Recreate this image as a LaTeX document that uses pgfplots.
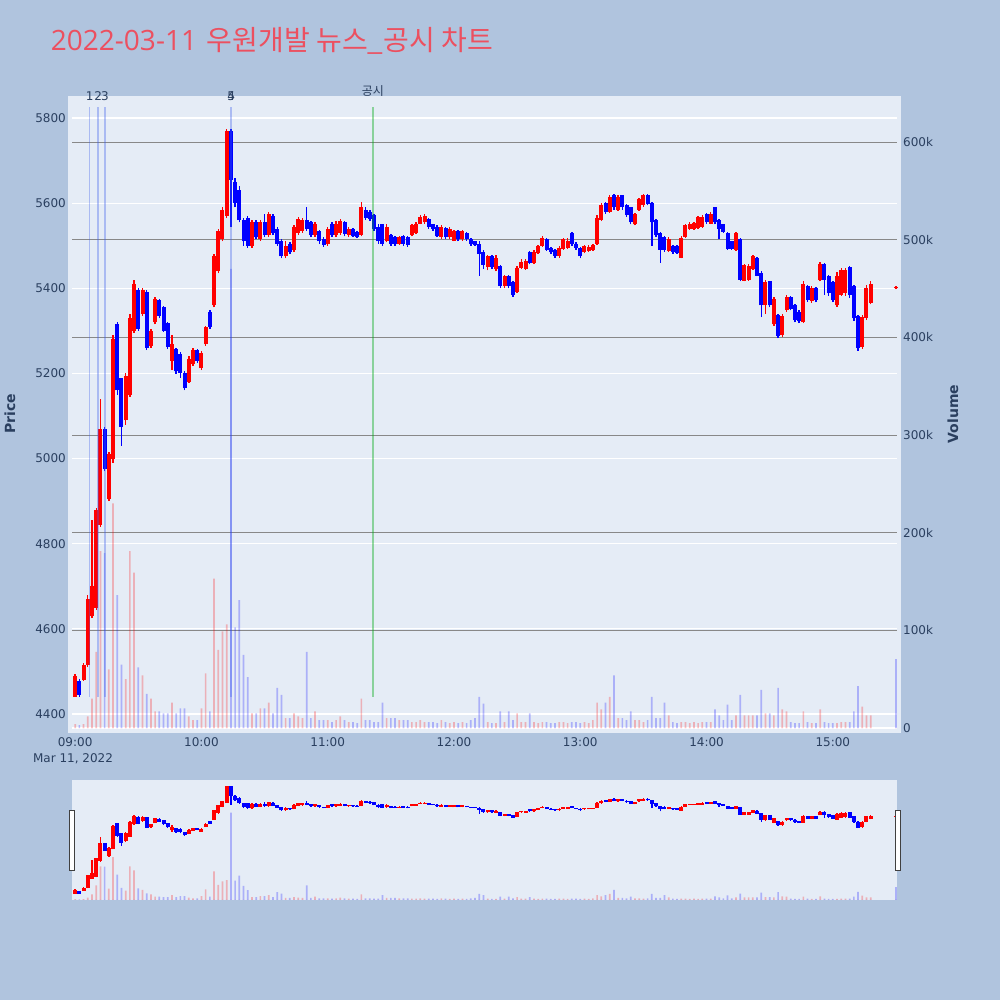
\documentclass[border=0pt]{standalone}
\usepackage{pgfplots}
\pgfplotsset{compat=1.18}
\usepackage{pgfplotstable}
\usepackage{fontspec}
\setmainfont{DejaVu Sans}
\newfontfamily\cjk{Noto Sans CJK KR}
\newfontfamily\opensans{Open Sans}
\definecolor{pagebg}{HTML}{B0C4DE}
\definecolor{plotbg}{HTML}{E5ECF6}
\definecolor{txt}{HTML}{2A3F5F}
\definecolor{titlec}{RGB}{236,80,96}
\definecolor{vgrid}{HTML}{888888}
\definecolor{upc}{HTML}{FF0000}
\definecolor{dnc}{HTML}{0000FF}
\definecolor{vline}{RGB}{60,95,235}
\definecolor{gline}{RGB}{0,170,20}

\pgfplotstableread{
t o h l c v
0 4440 4495 4440 4490 4
2 4478 4482 4440 4445 3
4 4480 4520 4478 4515 4
6 4515 4680 4510 4670 12
8 4630 4855 4625 4700 30
10 4650 4885 4645 4880 78
12 4845 5140 4840 5070 181
14 5070 5075 4970 4975 179
16 4905 5015 4900 5010 60
18 5000 5290 4990 5280 230
20 5315 5320 5150 5160 136
22 5190 5190 5030 5075 65
24 5090 5200 5080 5195 50
26 5150 5340 5145 5330 181
28 5300 5420 5295 5410 159
30 5395 5400 5300 5305 62
32 5340 5400 5335 5395 54
34 5392 5395 5255 5260 35
36 5265 5305 5260 5300 30
38 5320 5380 5315 5375 17
40 5372 5375 5330 5335 17
42 5355 5358 5298 5300 15
44 5318 5320 5258 5262 15
46 5230 5290 5208 5270 26
48 5258 5260 5199 5205 15
50 5245 5250 5190 5200 20
52 5200 5205 5160 5165 20
54 5180 5240 5178 5235 12
56 5222 5260 5218 5255 8
58 5255 5258 5225 5230 8
60 5212 5252 5208 5248 20
62 5268 5312 5265 5308 56
64 5345 5348 5305 5310 17
66 5360 5480 5355 5475 153
68 5440 5540 5435 5535 80
70 5515 5590 5510 5585 99
72 5570 5775 5565 5770 106
74 5770 5775 5545 5655 470
76 5650 5660 5590 5600 103
78 5630 5640 5555 5560 131
80 5560 5565 5500 5510 75
82 5565 5570 5495 5500 52
84 5500 5560 5495 5555 15
86 5555 5560 5515 5520 15
88 5515 5560 5512 5555 20
90 5555 5575 5520 5525 20
92 5525 5580 5520 5575 26
94 5570 5575 5525 5530 15
96 5540 5545 5500 5505 41
98 5510 5515 5470 5475 34
100 5475 5510 5470 5500 10
102 5505 5508 5480 5485 10
104 5490 5548 5485 5545 15
106 5530 5568 5525 5562 12
108 5535 5565 5530 5560 10
110 5560 5590 5535 5540 78
112 5555 5558 5520 5525 10
114 5525 5555 5520 5550 17
116 5535 5538 5505 5510 8
118 5515 5520 5498 5502 8
120 5505 5545 5500 5540 8
122 5550 5555 5520 5525 6
124 5525 5558 5520 5552 8
126 5530 5562 5525 5558 12
128 5555 5558 5522 5528 8
130 5525 5545 5520 5540 6
132 5540 5542 5520 5522 6
134 5532 5535 5518 5520 5
136 5525 5602 5522 5590 30
138 5585 5590 5560 5565 8
140 5580 5585 5558 5562 8
142 5572 5575 5535 5540 6
144 5545 5550 5505 5510 6
146 5550 5552 5500 5505 26
148 5510 5550 5508 5545 10
150 5525 5528 5500 5505 10
152 5520 5522 5500 5505 10
154 5505 5522 5502 5520 8
156 5522 5525 5500 5505 8
158 5520 5522 5498 5502 8
160 5525 5552 5522 5548 6
162 5530 5555 5528 5550 6
164 5552 5572 5550 5568 8
166 5555 5575 5552 5570 6
168 5562 5565 5540 5545 6
170 5550 5552 5535 5540 6
172 5545 5548 5520 5522 5
174 5520 5548 5515 5545 8
176 5542 5545 5515 5520 6
178 5520 5545 5515 5540 5
180 5512 5538 5510 5535 6
182 5535 5538 5510 5515 5
184 5515 5538 5512 5535 6
186 5530 5532 5512 5515 5
188 5515 5518 5500 5505 8
190 5510 5512 5500 5502 10
192 5505 5510 5430 5480 32
194 5486 5490 5446 5455 25
196 5450 5478 5442 5475 6
198 5476 5478 5445 5450 5
200 5445 5478 5440 5472 5
202 5452 5455 5400 5405 17
204 5405 5432 5400 5428 6
206 5430 5432 5400 5405 17
208 5415 5418 5380 5385 8
210 5392 5452 5390 5448 15
212 5448 5468 5445 5462 6
214 5446 5468 5444 5465 6
216 5485 5488 5456 5460 15
218 5460 5490 5458 5486 6
220 5482 5502 5480 5500 5
222 5500 5522 5498 5518 6
224 5515 5518 5488 5490 6
226 5495 5497 5480 5485 5
228 5490 5492 5472 5476 5
230 5475 5500 5472 5495 6
232 5492 5518 5490 5515 6
234 5495 5518 5492 5512 5
236 5530 5532 5500 5505 6
238 5505 5508 5490 5495 6
240 5495 5497 5470 5475 5
242 5485 5502 5482 5500 6
244 5488 5502 5486 5498 5
246 5490 5505 5488 5502 8
248 5505 5572 5502 5565 26
250 5560 5600 5558 5595 19
252 5600 5602 5575 5580 26
254 5580 5620 5578 5615 32
256 5620 5622 5585 5590 54
258 5585 5620 5582 5615 10
260 5618 5620 5585 5590 10
262 5595 5598 5568 5572 8
264 5590 5592 5550 5555 17
266 5550 5578 5548 5575 8
268 5585 5612 5582 5610 8
270 5595 5622 5592 5618 6
272 5620 5622 5595 5598 8
274 5600 5602 5500 5555 32
276 5560 5562 5520 5525 10
278 5530 5532 5460 5490 10
280 5520 5522 5486 5490 26
282 5488 5520 5485 5515 13
284 5500 5502 5481 5485 6
286 5500 5502 5481 5484 5
288 5472 5522 5470 5518 6
290 5520 5550 5518 5548 6
292 5540 5555 5538 5552 5
294 5540 5556 5538 5553 6
296 5542 5570 5540 5568 5
298 5545 5572 5542 5568 6
300 5575 5578 5552 5555 6
302 5552 5580 5550 5575 6
304 5590 5592 5550 5555 19
306 5560 5562 5515 5540 13
308 5550 5552 5530 5532 8
310 5530 5532 5490 5492 24
312 5510 5512 5490 5492 8
314 5490 5532 5488 5530 13
316 5515 5518 5416 5420 34
318 5418 5458 5416 5455 13
320 5420 5456 5418 5452 13
322 5446 5478 5444 5475 13
324 5471 5473 5428 5430 13
326 5436 5440 5332 5360 39
328 5360 5420 5340 5415 15
330 5416 5418 5355 5360 15
332 5315 5380 5312 5375 13
334 5337 5340 5283 5288 41
336 5290 5340 5286 5335 19
338 5350 5385 5345 5380 17
340 5380 5382 5348 5352 6
342 5360 5362 5320 5325 5
344 5345 5348 5318 5322 5
346 5320 5418 5318 5410 17
348 5405 5408 5368 5372 6
350 5370 5405 5366 5400 5
352 5400 5402 5367 5372 5
354 5420 5462 5416 5458 19
356 5456 5460 5385 5420 6
358 5430 5432 5382 5388 5
360 5415 5418 5367 5372 5
362 5360 5438 5357 5430 5
364 5385 5448 5382 5442 6
366 5390 5448 5382 5444 6
368 5450 5452 5377 5385 6
370 5405 5408 5323 5330 17
372 5335 5338 5253 5260 43
374 5262 5338 5258 5332 22
376 5330 5408 5325 5400 13
378 5365 5418 5362 5410 13
390 5400 5405 5398 5404 0
}\candles

\pgfplotsset{
  baseax/.style={scale only axis, width=825pt, xmin=-1.5, xmax=390.5,
    axis line style={draw=none}, major tick length=0pt, tick style={draw=none},
    ticklabel style={font=\fontsize{12}{14}\selectfont, text=txt}},
  mainax/.style={baseax, height=632pt, at={(72pt,-729pt)}, anchor=south west},
  sliderax/.style={baseax, height=120pt, at={(72pt,-900pt)}, anchor=south west,
    xtick=\empty, ytick=\empty},
  pricerange/.style={ymin=4364.8, ymax=5849.3},
  volrange/.style={ymin=-1.02, ymax=646.1},
}

\newcommand{\drawcandles}{%
  \addplot[draw=none, mark=none, forget plot, error bars/.cd, y dir=plus, y explicit, error mark=none,
    error bar style={draw=upc, line width=1.4pt, line cap=butt}]
    table[x=t, y=l, y error plus expr={\thisrow{c}>=\thisrow{o} ? \thisrow{h}-\thisrow{l} : 0}]{\candles};
  \addplot[draw=none, mark=none, forget plot, error bars/.cd, y dir=plus, y explicit, error mark=none,
    error bar style={draw=dnc, line width=1.4pt, line cap=butt}]
    table[x=t, y=l, y error plus expr={\thisrow{c}<\thisrow{o} ? \thisrow{h}-\thisrow{l} : 0}]{\candles};
  \addplot[draw=none, mark=none, forget plot, error bars/.cd, y dir=plus, y explicit, error mark=none,
    error bar style={draw=upc, line width=4pt, line cap=butt}]
    table[x=t, y=o, y error plus expr={max(\thisrow{c}-\thisrow{o},0)}]{\candles};
  \addplot[draw=none, mark=none, forget plot, error bars/.cd, y dir=plus, y explicit, error mark=none,
    error bar style={draw=dnc, line width=4pt, line cap=butt}]
    table[x=t, y=c, y error plus expr={max(\thisrow{o}-\thisrow{c},0)}]{\candles};
}
\newcommand{\drawvolume}{%
  \addplot[ybar, bar width=1.7pt, bar shift=0pt, fill=upc, fill opacity=0.25, draw=none, forget plot]
    table[x=t, y expr={\thisrow{c}>=\thisrow{o} ? \thisrow{v} : 0}]{\candles};
  \addplot[ybar, bar width=1.7pt, bar shift=0pt, fill=dnc, fill opacity=0.25, draw=none, forget plot]
    table[x=t, y expr={\thisrow{c}<\thisrow{o} ? \thisrow{v} : 0}]{\candles};
  \addplot[ybar, bar width=1.7pt, bar shift=0pt, fill=dnc, fill opacity=0.25, draw=none, forget plot]
    coordinates {(390,71)};
}

\begin{document}
\begin{tikzpicture}[x=1pt,y=1pt]
\useasboundingbox (0,0) rectangle (1000,-1000);
\fill[pagebg] (0,0) rectangle (1000,-1000);
\fill[plotbg] (68,-96) rectangle (901,-733);
\fill[plotbg] (72,-780) rectangle (897,-900);

% title
\node[anchor=base west, inner sep=0pt, text=titlec] at (50.7,-51)
  {{\opensans\fontsize{28}{32}\selectfont 2022-03-11}\hspace{10pt}{\cjk\fontsize{28}{32}\selectfont 우원개발 뉴스\_공시 차트}};

% price grid + x labels
\begin{axis}[mainax, pricerange,
  ytick={4400,4600,4800,5000,5200,5400,5600,5800},
  yticklabels={4400,4600,4800,5000,5200,5400,5600,5800},
  yticklabel style={anchor=east, inner sep=0pt, xshift=-6pt},
  ymajorgrids, grid style={white, line width=1.2pt},
  xtick={0,60,120,180,240,300,360},
  xticklabels={09:00,10:00,11:00,12:00,13:00,14:00,15:00},
  xticklabel style={anchor=base, inner sep=0pt, yshift=-17pt}]
\end{axis}

% volume axis
\begin{axis}[mainax, volrange,
  ytick={0,100,200,300,400,500,600},
  yticklabels={0,100k,200k,300k,400k,500k,600k},
  yticklabel pos=right,
  yticklabel style={anchor=west, inner sep=0pt, xshift=6pt},
  ymajorgrids, grid style={vgrid, line width=1pt},
  xtick=\empty]
\addplot[white, line width=2pt, forget plot] coordinates {(-1.5,0) (390.5,0)};
\drawvolume
\end{axis}

% price data
\begin{axis}[mainax, pricerange, xtick=\empty, ytick=\empty, clip=false]
\drawcandles
\addplot[vline, opacity=0.35, line width=1.4pt, forget plot] coordinates {(6.9,4440) (6.9,5826)};
\addplot[vline, opacity=0.35, line width=1.4pt, forget plot] coordinates {(10.9,4440) (10.9,5826)};
\addplot[vline, opacity=0.35, line width=1.4pt, forget plot] coordinates {(14.2,4440) (14.2,5826)};
\addplot[vline, opacity=0.35, line width=1.4pt, forget plot] coordinates {(74.1,4440) (74.1,5826)};
\addplot[gline, opacity=0.4, line width=1.4pt, forget plot] coordinates {(141.5,4440) (141.5,5826)};
\node[anchor=base, inner sep=0pt, text=txt, font=\fontsize{12}{14}\selectfont, yshift=-3.7pt] at (axis cs:6.9,5849.3) {1};
\node[anchor=base, inner sep=0pt, text=txt, font=\fontsize{12}{14}\selectfont, yshift=-3.7pt] at (axis cs:10.9,5849.3) {2};
\node[anchor=base, inner sep=0pt, text=txt, font=\fontsize{12}{14}\selectfont, yshift=-3.7pt] at (axis cs:14.2,5849.3) {3};
\node[anchor=base, inner sep=0pt, text=txt, font=\fontsize{12}{14}\selectfont, yshift=-3.7pt] at (axis cs:74.1,5849.3) {4};
\node[anchor=base, inner sep=0pt, text=txt, font=\fontsize{12}{14}\selectfont, yshift=-3.7pt] at (axis cs:74.1,5849.3) {5};
\node[anchor=base, inner sep=0pt, text=txt, font=\cjk\fontsize{12}{14}\selectfont, yshift=1.5pt] at (axis cs:141.5,5849.3) {공시};
\node[anchor=base, inner sep=0pt, text=txt, font=\fontsize{12}{14}\selectfont] at (axis cs:-1,4364.8) [yshift=-33pt] {Mar 11, 2022};
\end{axis}

% axis titles
\node[rotate=90, text=txt, font=\bfseries\fontsize{14}{16}\selectfont] at (10,-414) {Price};
\node[rotate=90, text=txt, font=\bfseries\fontsize{14}{16}\selectfont] at (953,-414) {Volume};

% range slider
\begin{axis}[sliderax, volrange]
\drawvolume
\end{axis}
\begin{axis}[sliderax, pricerange]
\drawcandles
\end{axis}
\filldraw[fill=white, draw=black!75, line width=1pt] (69.5,-810.5) rectangle (74,-870);
\filldraw[fill=white, draw=black!75, line width=1pt] (895.5,-810.5) rectangle (900,-870);
\end{tikzpicture}
\end{document}
